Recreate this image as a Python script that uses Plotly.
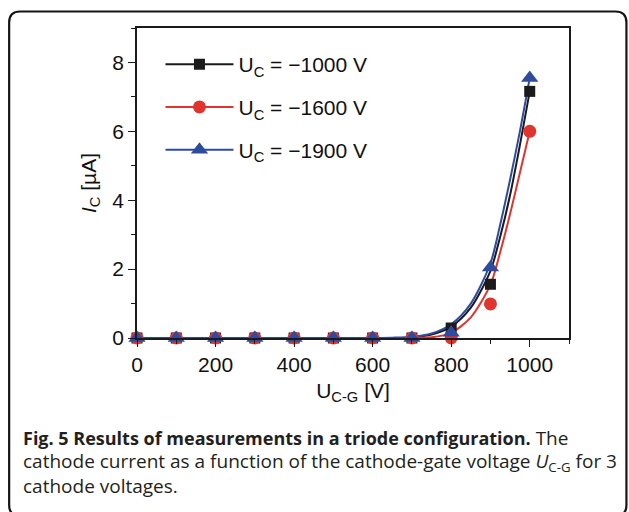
import plotly.graph_objects as go

# ---------------- data ----------------
u_cg = [0, 100, 200, 300, 400, 500, 600, 700, 800, 900, 1000]
ic_1000 = [0, 0, 0, 0, 0, 0, 0, 0, 0.29, 1.56, 7.16]
ic_1600 = [0, 0, 0, 0, 0, 0, 0, 0, 0.0, 0.99, 6.0]
ic_1900 = [0, 0, 0, 0, 0, 0, 0, 0, 0.15, 2.05, 7.55]

fit_u = [0, 100, 200, 300, 400, 500, 600, 650, 700, 750, 800, 850, 900, 925, 950, 975, 1000]
fit_1000 = [0, 0, 0, 0, 0, 0, 0, 0.003, 0.02, 0.1, 0.33, 0.88, 1.95, 2.95, 4.15, 5.6, 7.16]
fit_1600 = [0, 0, 0, 0, 0, 0, 0, 0.0, 0.0, 0.02, 0.15, 0.6, 1.55, 2.5, 3.6, 4.8, 6.0]
fit_1900 = [0, 0, 0, 0, 0, 0, 0, 0.005, 0.03, 0.13, 0.40, 1.0, 2.17, 3.3, 4.6, 6.0, 7.55]

series_names = ["U<sub>C</sub> = \u22121000 V", "U<sub>C</sub> = \u22121600 V", "U<sub>C</sub> = \u22121900 V"]
x_tickvals = [0, 200, 400, 600, 800, 1000]
y_tickvals = [0, 2, 4, 6, 8]

# ---------------- layout constants ----------------
W, H = 629, 512
L, R, T, B = 136.5, 569.0, 28.0, 338.0

def px2x(px):
    return (px - L) / (R - L)

def px2y(py):
    return (B - py) / (B - T)

BLACK = "#1b1b1b"
RED = "#e0352e"
BLUE = "#2f4b9d"
TICKFONT = "Liberation Sans, Arial, sans-serif"
TXT = "#111111"

fig = go.Figure()

styles = [
    (ic_1000, fit_1000, BLACK, "square", 11),
    (ic_1600, fit_1600, RED, "circle", 13),
    (ic_1900, fit_1900, BLUE, "triangle-up", 15),
]
# fitted curves
for i, (ys, fys, col, sym, ms) in enumerate(styles):
    fig.add_trace(go.Scatter(
        x=fit_u, y=fys, mode="lines",
        line=dict(color=col, width=2, shape="spline", smoothing=0.8),
        showlegend=False, legendgroup=f"g{i}", cliponaxis=False, hoverinfo="skip"))
# measured points
for i, (ys, fys, col, sym, ms) in enumerate(styles):
    fig.add_trace(go.Scatter(
        x=u_cg, y=ys, mode="markers", name=series_names[i],
        marker=dict(symbol=sym, size=ms, color=col, line=dict(width=0)),
        legendgroup=f"g{i}", showlegend=False, cliponaxis=False))
# legend entries (line + marker)
for i, (ys, fys, col, sym, ms) in enumerate(styles):
    fig.add_trace(go.Scatter(
        x=[None], y=[None], mode="lines+markers", name=series_names[i],
        line=dict(color=col, width=2),
        marker=dict(symbol=sym, size=ms, color=col, line=dict(width=0)),
        legendgroup=f"g{i}", showlegend=True))

axis_common = dict(
    showline=True, linecolor=BLACK, linewidth=1.6, mirror=True,
    ticks="outside", tickcolor=BLACK, tickwidth=1.4, ticklen=7,
    showgrid=False, zeroline=False,
    tickfont=dict(family=TICKFONT, size=21, color=TXT),
)

fig.update_layout(
    width=W, height=H,
    margin=dict(l=L, r=W - R, t=T, b=H - B, autoexpand=False),
    paper_bgcolor="white", plot_bgcolor="white",
    xaxis=dict(range=[0, 1100], tickvals=x_tickvals,
               minor=dict(dtick=100, tick0=0, ticks="outside", ticklen=4, tickcolor=BLACK, tickwidth=1.4),
               title=dict(text="U<sub>C-G</sub> [V]", font=dict(family=TICKFONT, size=21, color=TXT), standoff=8),
               **axis_common),
    yaxis=dict(range=[0, 9], tickvals=y_tickvals,
               minor=dict(dtick=1, tick0=0, ticks="outside", ticklen=4, tickcolor=BLACK, tickwidth=1.4),
               title=dict(text="<i>I</i><sub>C</sub> [\u00b5A]", font=dict(family=TICKFONT, size=21, color=TXT), standoff=10),
               **axis_common),
    legend=dict(x=px2x(160), y=px2y(44), xanchor="left", yanchor="top",
                bgcolor="rgba(0,0,0,0)", borderwidth=0,
                font=dict(family=TICKFONT, size=21, color=TXT),
                itemwidth=68, tracegroupgap=12.5, traceorder="grouped"),
    showlegend=True,
)

# rounded frame around whole figure
fl, ft, fr, fb, rr = 8.5, 11.5, 626.5, 516.0, 11.0
path = (f"M {px2x(fl+rr)},{px2y(ft)} L {px2x(fr-rr)},{px2y(ft)} "
        f"Q {px2x(fr)},{px2y(ft)} {px2x(fr)},{px2y(ft+rr)} "
        f"L {px2x(fr)},{px2y(fb-rr)} Q {px2x(fr)},{px2y(fb)} {px2x(fr-rr)},{px2y(fb)} "
        f"L {px2x(fl+rr)},{px2y(fb)} Q {px2x(fl)},{px2y(fb)} {px2x(fl)},{px2y(fb-rr)} "
        f"L {px2x(fl)},{px2y(ft+rr)} Q {px2x(fl)},{px2y(ft)} {px2x(fl+rr)},{px2y(ft)} Z")
fig.add_shape(type="path", path=path, xref="paper", yref="paper",
              line=dict(color="#151515", width=2.2), layer="above")

CAPFONT = "Open Sans, Noto Sans, sans-serif"
captions = [
    ("<b><span style='font-size:18px'>Fig. 5 Results of measurements in a triode configuration.</span></b> The", 437.5),
    ("cathode current as a function of the cathode-gate voltage <i>U</i><sub>C-G</sub> for 3", 462),
    ("cathode voltages.", 485.5),
]
for txt, yy in captions:
    fig.add_annotation(text=txt, x=px2x(20), y=px2y(yy), xref="paper", yref="paper",
                       xanchor="left", yanchor="middle", showarrow=False,
                       font=dict(family=CAPFONT, size=19, color="#231f20"))

fig.write_html("out.html")
